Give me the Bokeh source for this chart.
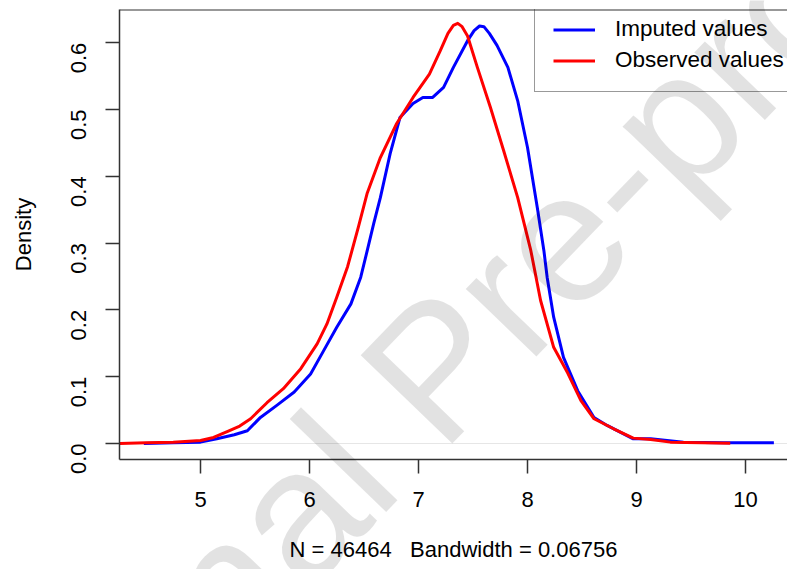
import math
from bokeh.plotting import figure
from bokeh.layouts import column
from bokeh.models import (Range1d, FixedTicker, Span, Label, Legend, LegendItem,
                          PrintfTickFormatter)
from bokeh.embed import file_html
from bokeh.resources import INLINE

# ---- data ----
imputed_x = [4.48, 4.75, 5.0, 5.15, 5.31, 5.43, 5.55, 5.70, 5.86, 6.01, 6.13, 6.25,
             6.38, 6.47, 6.53, 6.59, 6.65, 6.74, 6.83, 6.95, 7.04, 7.13, 7.23, 7.32,
             7.45, 7.51, 7.56, 7.60, 7.65, 7.72, 7.82, 7.91, 8.0, 8.09, 8.15, 8.18, 8.24,
             8.33, 8.46, 8.61, 8.73, 8.97, 9.13, 9.43, 9.8, 10.26]
imputed_y = [0.0, 0.001, 0.002, 0.007, 0.013, 0.019, 0.039, 0.057, 0.077, 0.104, 0.139, 0.174,
             0.209, 0.249, 0.289, 0.33, 0.368, 0.434, 0.488, 0.509, 0.518, 0.518, 0.533, 0.563,
             0.603, 0.618, 0.625, 0.624, 0.614, 0.596, 0.563, 0.513, 0.443, 0.353, 0.289, 0.249, 0.189,
             0.129, 0.079, 0.039, 0.027, 0.007, 0.007, 0.002, 0.001, 0.001]

observed_x = [4.26, 4.5, 4.75, 5.0, 5.12, 5.25, 5.36, 5.46, 5.61, 5.76, 5.92, 6.07, 6.16,
              6.25, 6.35, 6.45, 6.53, 6.65, 6.8, 6.95, 7.1, 7.2, 7.27, 7.32, 7.36, 7.40, 7.45,
              7.54, 7.66, 7.78, 7.91, 8.03, 8.12, 8.24, 8.37, 8.49, 8.61, 8.79, 8.97,
              9.13, 9.31, 9.6, 9.86]
observed_y = [0.0, 0.001, 0.002, 0.0045, 0.009, 0.018, 0.026, 0.037, 0.061, 0.082, 0.112, 0.149, 0.179,
              0.219, 0.265, 0.325, 0.375, 0.428, 0.479, 0.518, 0.553, 0.588, 0.614, 0.626, 0.629, 0.624, 0.610,
              0.563, 0.503, 0.439, 0.368, 0.289, 0.214, 0.144, 0.105, 0.064, 0.037, 0.022, 0.008,
              0.006, 0.002, 0.001, 0.0005]

x_ticks = [5, 6, 7, 8, 9, 10]
y_ticks = [0.0, 0.1, 0.2, 0.3, 0.4, 0.5, 0.6]
series_names = ["Imputed values", "Observed values"]
x_label = "N = 46464\u00a0\u00a0\u00a0Bandwidth = 0.06756"
y_label = "Density"
watermark = "Journal Pre-proof"

FONT = "Liberation Sans"
AXIS_COLOR = "#333333"
W, H = 787, 569

p = figure(width=W, height=H, output_backend="svg", toolbar_location=None,
           x_range=Range1d(4.257, 10.385), y_range=Range1d(-0.024, 0.6497),
           min_border_left=119, min_border_right=0, min_border_top=9,
           min_border_bottom=110)
p.outline_line_color = None
p.grid.visible = False
p.background_fill_color = "white"
p.border_fill_color = "white"

# zero line
p.add_layout(Span(location=0, dimension="width", line_color="#e6e6e6",
                  line_width=1, level="underlay"))

r_imp = p.line(imputed_x, imputed_y, line_color="#0000ff", line_width=3,
               line_join="round")
r_obs = p.line(observed_x, observed_y, line_color="#ff0000", line_width=3,
               line_join="round")

# top border of the box
p.add_layout(Span(location=0.6497, dimension="width", line_color=AXIS_COLOR,
                  line_width=2))

for ax in (p.xaxis[0], p.yaxis[0]):
    ax.axis_line_color = AXIS_COLOR
    ax.axis_line_width = 1.5
    ax.major_tick_line_color = AXIS_COLOR
    ax.major_tick_line_width = 1.5
    ax.major_tick_out = 14
    ax.major_tick_in = 0
    ax.minor_tick_out = 0
    ax.minor_tick_in = 0
    ax.major_label_text_font = FONT
    ax.major_label_text_font_size = "22px"
    ax.major_label_text_color = "black"
    ax.axis_label_text_font = FONT
    ax.axis_label_text_font_size = "22px"
    ax.axis_label_text_font_style = "normal"
    ax.axis_label_text_color = "black"

p.xaxis.ticker = FixedTicker(ticks=x_ticks)
p.yaxis.ticker = FixedTicker(ticks=y_ticks)
p.xaxis.formatter = PrintfTickFormatter(format="%d")
p.yaxis.formatter = PrintfTickFormatter(format="%.1f")
p.yaxis.major_label_orientation = math.pi / 2
p.xaxis.major_label_standoff = 18
p.yaxis.major_label_standoff = 27

p.yaxis.axis_label = y_label
p.yaxis.axis_label_standoff = 25
p.xaxis.axis_label = x_label
p.xaxis.axis_label_standoff = 27

legend = Legend(items=[LegendItem(label=series_names[0], renderers=[r_imp]),
                       LegendItem(label=series_names[1], renderers=[r_obs])],
                location=(415, 367), orientation="vertical",
                border_line_color=AXIS_COLOR, border_line_width=1.5,
                background_fill_alpha=0,
                label_text_font=FONT, label_text_font_size="22.5px",
                label_text_color="black",
                glyph_width=42, glyph_height=21, label_height=21,
                label_standoff=20, spacing=5, padding=18, margin=0)
p.add_layout(legend)

# watermark on a transparent figure laid over the whole chart
wmf = figure(width=W, height=H, output_backend="svg", toolbar_location=None,
             x_range=Range1d(0, 1), y_range=Range1d(0, 1),
             x_axis_type=None, y_axis_type=None, min_border=0,
             styles={"position": "absolute", "top": "0px", "left": "0px",
                     "pointer-events": "none"})
wmf.grid.visible = False
wmf.outline_line_color = None
wmf.background_fill_alpha = 0
wmf.border_fill_alpha = 0
wmf.add_layout(Label(x=-181, y=-314, x_units="screen", y_units="screen", text=watermark,
                     angle=math.radians(46), text_font=FONT, text_font_size="185px",
                     text_color="black", text_alpha=0.115, text_align="left",
                     text_baseline="alphabetic"))

layout = column(p, wmf, styles={"position": "relative"})

open("out.html", "w").write(file_html(layout, INLINE))
